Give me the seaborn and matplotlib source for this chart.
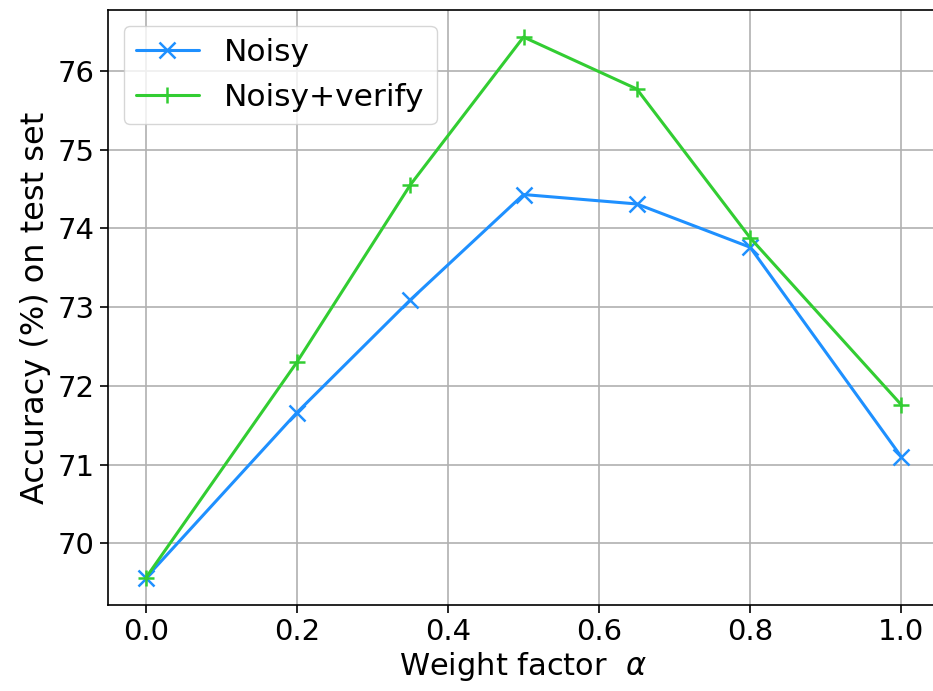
import matplotlib
matplotlib.use("Agg")
import matplotlib.pyplot as plt
import seaborn as sns
import pandas as pd

alpha = [0.0, 0.2, 0.35, 0.5, 0.65, 0.8, 1.0]
noisy = [69.56, 71.66, 73.09, 74.43, 74.31, 73.76, 71.10]
noisy_verify = [69.56, 72.30, 74.55, 76.43, 75.77, 73.88, 71.76]
series_names = ["Noisy", "Noisy+verify"]
colors = ["#1e90ff", "#32cd32"]
markers = ["x", "+"]

sns.set_style("ticks", {"axes.grid": True, "grid.color": "#b0b0b0",
                        "axes.edgecolor": "black", "xtick.direction": "out",
                        "ytick.direction": "out", "text.color": "black",
                        "axes.labelcolor": "black", "xtick.color": "black",
                        "ytick.color": "black"})
plt.rcParams["font.family"] = ["DejaVu Sans"]

df = pd.DataFrame({
    "alpha": alpha * 2,
    "acc": noisy + noisy_verify,
    "series": [series_names[0]] * len(alpha) + [series_names[1]] * len(alpha),
})

fig = plt.figure(figsize=(9.33, 6.91), dpi=100)
W, H = 933, 691
left, right, top, bottom = 108, 939, 10, 605
ax = fig.add_axes([left / W, 1 - bottom / H, (right - left) / W, (bottom - top) / H])

for name, c, m in zip(series_names, colors, markers):
    sub = df[df["series"] == name]
    sns.lineplot(data=sub, x="alpha", y="acc", ax=ax, color=c, marker=m,
                 markersize=11, markeredgewidth=1.8, markeredgecolor=c,
                 markerfacecolor=c, linewidth=2.2, label=name)

ax.set_xticks([0.0, 0.2, 0.4, 0.6, 0.8, 1.0])
ax.set_xticklabels(["0.0", "0.2", "0.4", "0.6", "0.8", "1.0"])
ax.set_yticks([70, 71, 72, 73, 74, 75, 76])
ax.tick_params(labelsize=21, length=6, width=1.2, colors="black")
ax.grid(True, color="#b0b0b0", linewidth=1.2)
ax.set_xlabel(r"Weight factor  $\alpha$", fontsize=22, labelpad=3, color="black")
ax.set_ylabel("Accuracy (%) on test set", fontsize=23, labelpad=5, color="black")
for s in ax.spines.values():
    s.set_linewidth(1.2)
    s.set_color("black")
leg = ax.legend(loc="upper left", fontsize=22.5, frameon=True, fancybox=True,
                borderaxespad=0.5, handlelength=2.0)
leg.get_frame().set_edgecolor("#cccccc")
for t in leg.get_texts():
    t.set_color("black")
fig.savefig("out.png", dpi=100)
